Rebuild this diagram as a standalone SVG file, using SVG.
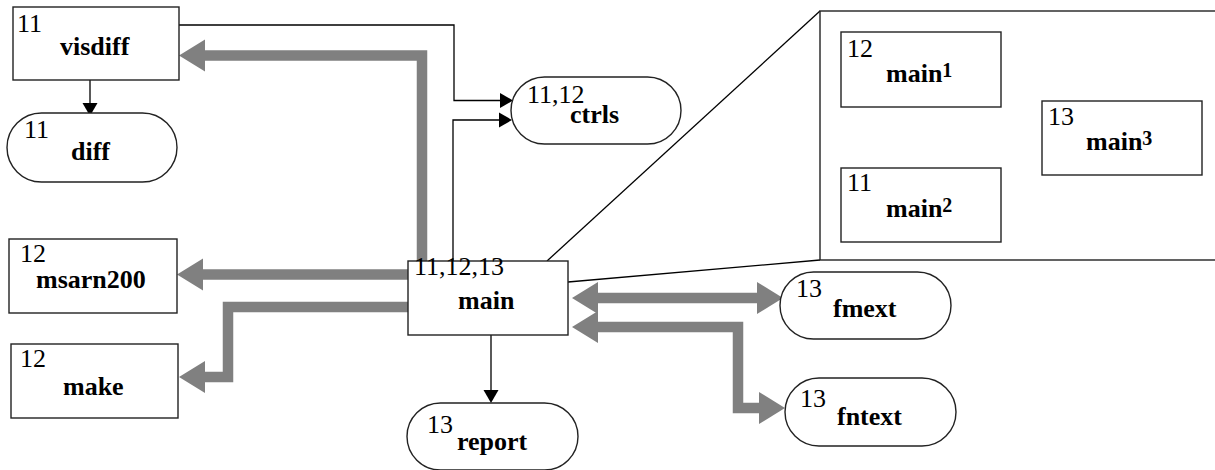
<svg xmlns="http://www.w3.org/2000/svg" width="1215" height="470" viewBox="0 0 1215 470" font-family="'Liberation Serif', 'Times New Roman', Times, serif">
  <style>
    .box { fill: #fff; stroke: #222; stroke-width: 1.4; }
    .num { font-size: 26px; fill: #000; }
    .lbl { font-size: 26px; font-weight: bold; fill: #000; }
    .sup { font-size: 20px; }
    .thin { fill: none; stroke: #000; stroke-width: 1.3; }
    .thick { fill: none; stroke: #808080; stroke-width: 10.5; }
  </style>
  <defs>
    <marker id="grey-head" markerUnits="userSpaceOnUse" markerWidth="26" markerHeight="32" refX="0" refY="16" orient="auto-start-reverse" overflow="visible">
      <path d="M0,0 L26,16 L0,32 Z" fill="#808080"/>
    </marker>
    <marker id="black-head" markerUnits="userSpaceOnUse" markerWidth="13" markerHeight="15" refX="0" refY="7.5" orient="auto" overflow="visible">
      <path d="M0,0 L13,7.5 L0,15 Z" fill="#000"/>
    </marker>
  </defs>
  <rect width="1215" height="470" fill="#fff"/>

  <!-- expansion of main into its three variants -->
  <g id="expansion">
    <line x1="547" y1="261" x2="820" y2="11" class="thin"/>
    <line x1="568" y1="282" x2="820" y2="260" class="thin"/>
    <rect x="820" y="11" width="410" height="249" class="box"/>
  </g>

  <g id="connectors">
    <path d="M90,80 V103" class="thin" marker-end="url(#black-head)"/>
    <path d="M179,25 H454 V100.5 H500" class="thin" marker-end="url(#black-head)"/>
    <path d="M453,261 V120 H499" class="thin" marker-end="url(#black-head)"/>
    <path d="M491,335 V390" class="thin" marker-end="url(#black-head)"/>
    <path d="M422,262 V55.5 H205" class="thick" marker-end="url(#grey-head)"/>
    <path d="M412,274.5 H203" class="thick" marker-end="url(#grey-head)"/>
    <path d="M409,307 H228 V377 H205" class="thick" marker-end="url(#grey-head)"/>
    <path d="M598,298 H757" class="thick" marker-start="url(#grey-head)" marker-end="url(#grey-head)"/>
    <path d="M598,327 H738 V408 H759" class="thick" marker-start="url(#grey-head)" marker-end="url(#grey-head)"/>
  </g>

  <g id="visdiff">
    <rect x="13" y="7" width="166" height="73" class="box"/>
    <text x="17" y="32" class="num" font-family="Liberation Serif">11</text>
    <text x="60" y="55" class="lbl">visdiff</text>
  </g>
  <g id="diff">
    <rect x="7" y="113" width="170" height="69" rx="34.5" class="box"/>
    <text x="24" y="138" class="num">11</text>
    <text x="71" y="160" class="lbl">diff</text>
  </g>
  <g id="ctrls">
    <rect x="511" y="77" width="170" height="67" rx="33.5" class="box"/>
    <text x="527" y="103" class="num">11,12</text>
    <text x="570" y="123" class="lbl">ctrls</text>
  </g>
  <g id="msarn200">
    <rect x="9" y="239" width="168" height="74" class="box"/>
    <text x="20" y="262" class="num">12</text>
    <text x="36" y="288" class="lbl">msarn200</text>
  </g>
  <g id="make">
    <rect x="11" y="344" width="167" height="74" class="box"/>
    <text x="20" y="367" class="num">12</text>
    <text x="63" y="395" class="lbl">make</text>
  </g>
  <g id="main">
    <rect x="408" y="261" width="160" height="74" class="box"/>
    <text x="414" y="275" class="num">11,12,13</text>
    <text x="458" y="309" class="lbl">main</text>
  </g>
  <g id="report">
    <rect x="407" y="403" width="171" height="67" rx="33.5" class="box"/>
    <text x="427" y="433" class="num">13</text>
    <text x="457" y="450" class="lbl">report</text>
  </g>
  <g id="fmext">
    <rect x="780" y="272" width="171" height="67" rx="33.5" class="box"/>
    <text x="796" y="297" class="num">13</text>
    <text x="833" y="317" class="lbl">fmext</text>
  </g>
  <g id="fntext">
    <rect x="785" y="378" width="171" height="68" rx="34" class="box"/>
    <text x="800" y="407" class="num">13</text>
    <text x="837" y="425" class="lbl">fntext</text>
  </g>
  <g id="main1">
    <rect x="841" y="32" width="160" height="75" class="box"/>
    <text x="847" y="57" class="num">12</text>
    <text x="886" y="82" class="lbl">main<tspan class="sup" dy="-5">1</tspan></text>
  </g>
  <g id="main2">
    <rect x="841" y="168" width="160" height="74" class="box"/>
    <text x="847" y="191" class="num">11</text>
    <text x="886" y="217" class="lbl">main<tspan class="sup" dy="-5">2</tspan></text>
  </g>
  <g id="main3">
    <rect x="1042" y="101" width="160" height="74" class="box"/>
    <text x="1048" y="125" class="num">13</text>
    <text x="1086" y="150" class="lbl">main<tspan class="sup" dy="-5">3</tspan></text>
  </g>
</svg>
